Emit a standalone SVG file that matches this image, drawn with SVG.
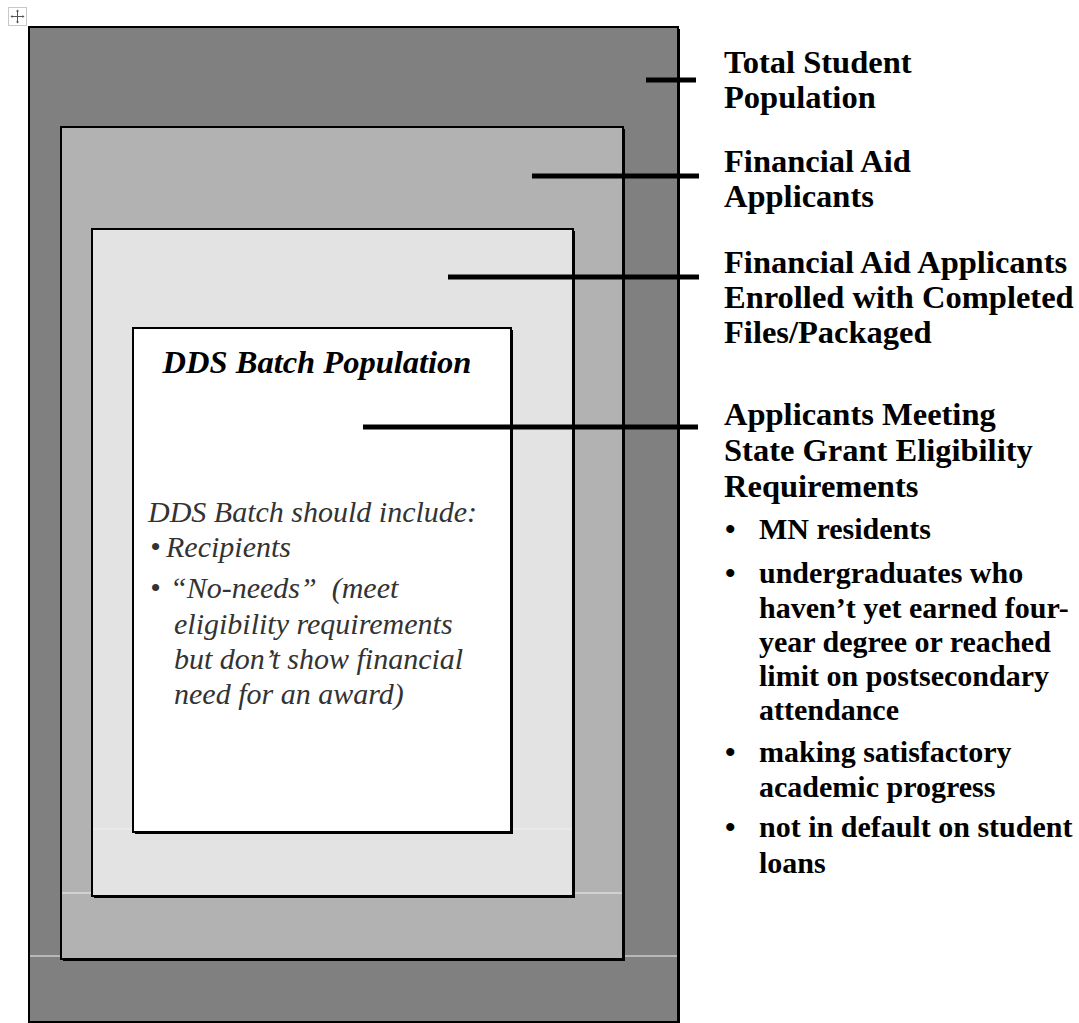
<svg xmlns="http://www.w3.org/2000/svg" width="1079" height="1023" viewBox="0 0 1079 1023">
<style>
.box{stroke:#000;stroke-width:2}
.shadow{fill:#000}
.conn line{stroke:#000;stroke-width:5}
.hl{stroke:#f0f0f0;stroke-width:1.2}
.lbl{font-family:"Liberation Serif","Times New Roman",serif;font-weight:bold;font-size:32.5px;fill:#000}
.bul{font-family:"Liberation Serif","Times New Roman",serif;font-weight:bold;font-size:30px;fill:#000}
.ttl{font-family:"Liberation Serif","Times New Roman",serif;font-weight:bold;font-style:italic;font-size:32.5px;fill:#000}
.it{font-family:"Liberation Serif","Times New Roman",serif;font-style:italic;font-size:30px;fill:#333}
</style>
<rect width="1079" height="1023" fill="#fff"/>
<g id="anchor-icon">
<rect x="8.5" y="7.5" width="18" height="18" fill="#fff" stroke="#c8c8c8" stroke-width="1"/>
<path d="M17.5 10v13M11 16.5h13" stroke="#555" stroke-width="1"/>
<path d="M17.5 9.5l-1.6 2h3.2zM17.5 23.5l-1.6-2h3.2zM10.5 16.5l2-1.6v3.2zM24.5 16.5l-2-1.6v3.2z" fill="#555"/>
</g>
<g id="total-student-population">
<rect class="shadow" x="31" y="29" width="649" height="995"/>
<rect class="box" x="29" y="27" width="649" height="995" fill="#808080"/>
<line class="hl" x1="30" y1="956" x2="677" y2="956"/>
</g>
<g id="financial-aid-applicants">
<rect class="shadow" x="63" y="129" width="562" height="832"/>
<rect class="box" x="61" y="127" width="562" height="832" fill="#b2b2b2"/>
<line class="hl" x1="62" y1="893" x2="622" y2="893"/>
</g>
<g id="enrolled-completed">
<rect class="shadow" x="94" y="231" width="481" height="667"/>
<rect class="box" x="92" y="229" width="481" height="667" fill="#e3e3e3"/>
<line class="hl" x1="93" y1="829" x2="572" y2="829"/>
</g>
<g id="dds-batch">
<rect class="shadow" x="135" y="330" width="378" height="504"/>
<rect class="box" x="133" y="328" width="378" height="504" fill="#fff"/>
<text class="ttl" x="317" y="373" text-anchor="middle">DDS Batch Population</text>
<text class="it" x="148" y="522">DDS Batch should include:</text>
<text class="it" x="150" y="557">•</text>
<text class="it" x="166" y="557">Recipients</text>
<text class="it" x="150" y="598">•</text>
<text class="it" x="170" y="598" xml:space="preserve">“No-needs”  (meet</text>
<text class="it" x="174" y="634">eligibility requirements</text>
<text class="it" x="174" y="669">but don’t show financial</text>
<text class="it" x="174" y="704">need for an award)</text>
</g>
<g id="connectors" class="conn">
<line x1="646" y1="80" x2="696" y2="80"/>
<line x1="532" y1="176" x2="699" y2="176"/>
<line x1="448" y1="277" x2="699" y2="277"/>
<line x1="363" y1="427" x2="698" y2="427"/>
</g>
<g id="label-total">
<text class="lbl" x="724" y="73">Total Student</text>
<text class="lbl" x="724" y="108">Population</text>
</g>
<g id="label-applicants">
<text class="lbl" x="724" y="172">Financial Aid</text>
<text class="lbl" x="724" y="207">Applicants</text>
</g>
<g id="label-enrolled">
<text class="lbl" x="724" y="273">Financial Aid Applicants</text>
<text class="lbl" x="724" y="308">Enrolled with Completed</text>
<text class="lbl" x="724" y="343">Files/Packaged</text>
</g>
<g id="label-eligibility">
<text class="lbl" x="724" y="425">Applicants Meeting</text>
<text class="lbl" x="724" y="461">State Grant Eligibility</text>
<text class="lbl" x="724" y="497">Requirements</text>
<text class="bul" x="725" y="539">•</text>
<text class="bul" x="759" y="539">MN residents</text>
<text class="bul" x="725" y="583">•</text>
<text class="bul" x="759" y="583">undergraduates who</text>
<text class="bul" x="759" y="618">haven’t yet earned four-</text>
<text class="bul" x="759" y="652">year degree or reached</text>
<text class="bul" x="759" y="686">limit on postsecondary</text>
<text class="bul" x="759" y="720">attendance</text>
<text class="bul" x="725" y="762">•</text>
<text class="bul" x="759" y="762">making satisfactory</text>
<text class="bul" x="759" y="797">academic progress</text>
<text class="bul" x="725" y="837">•</text>
<text class="bul" x="759" y="837">not in default on student</text>
<text class="bul" x="759" y="873">loans</text>
</g>
</svg>
